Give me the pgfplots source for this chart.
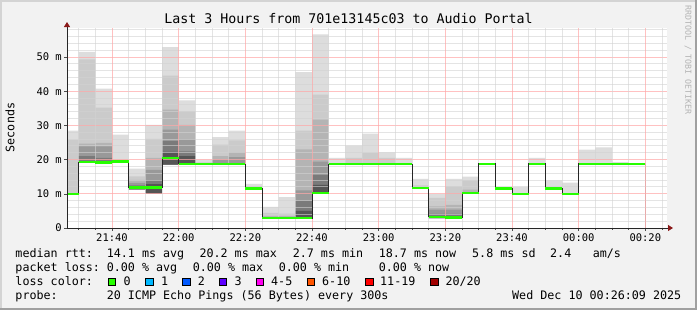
\documentclass[border=0pt]{standalone}
\usepackage{fontspec}
\setmainfont{DejaVu Sans Mono}
\usepackage{pgfplots}
\pgfplotsset{compat=1.18}
\usepackage{pgfplotstable}
\usetikzlibrary{arrows.meta}

\definecolor{bgc}{HTML}{F2F2F2}
\definecolor{frameL}{HTML}{D4D4D4}
\definecolor{frameD}{HTML}{A0A0A0}
\definecolor{gridred}{HTML}{FFA8A8}
\definecolor{gridgray}{HTML}{D2D2D2}
\definecolor{arrowred}{HTML}{8B1A1A}
\definecolor{s1}{HTML}{DDDDDD}
\definecolor{s2}{HTML}{CBCBCB}
\definecolor{s3}{HTML}{B4B4B4}
\definecolor{s4}{HTML}{999999}
\definecolor{s5}{HTML}{7A7A7A}
\definecolor{s6}{HTML}{555555}
\definecolor{lc0}{HTML}{26FF00}
\definecolor{lc1}{HTML}{00B8FF}
\definecolor{lc2}{HTML}{0059FF}
\definecolor{lc3}{HTML}{5E00FF}
\definecolor{lc4}{HTML}{FF00F0}
\definecolor{lc6}{HTML}{FF5500}
\definecolor{lc11}{HTML}{FF0000}
\definecolor{lc20}{HTML}{A10000}
\definecolor{wm}{HTML}{B4B4B4}

% t = minutes after 21:40, step start; m = median rtt (ms); lo = smallest rtt; h1..h6 = tops of the smoke layers (light to dark)
\pgfplotstableread{
t    m    lo   h1   h2   h3   h4   h5   h6
-15  10.0 10.0 28.5 25.8 10.0 10.0 10.0 10.0
-10  19.3 19.0 51.5 49.3 24.7 23.9 21.0 19.3
-5   19.2 19.0 40.8 35.2 24.9 23.9 20.5 19.2
0    19.5 19.3 27.3 20.0 19.5 19.5 19.5 19.5
5    11.9 11.2 17.4 15.1 14.1 13.2 12.5 11.9
10   11.9 10.0 30.2 26.1 20.5 17.0 14.0 12.8
15   20.5 18.5 52.9 44.6 34.6 28.8 25.4 22.3
20   18.8 18.5 37.3 34.1 30.2 25.9 22.4 21.0
25   18.7 18.6 20.0 19.2 18.7 18.7 18.7 18.7
30   18.7 18.6 26.6 24.4 21.0 20.0 18.7 18.7
35   18.7 18.6 28.5 25.6 22.1 20.7 18.7 18.7
40   11.5 11.3 12.9 12.2 11.5 11.5 11.5 11.5
45   2.9  2.7  6.2  4.4  3.5  2.9  2.9  2.9
50   2.9  2.7  9.0  4.2  3.5  2.9  2.9  2.9
55   2.9  2.7  45.6 28.5 23.0 11.0 8.0  5.0
60   10.2 10.0 56.6 39.0 31.7 19.4 15.5 12.6
65   18.7 18.6 20.5 18.7 18.7 18.7 18.7 18.7
70   18.7 18.6 24.1 20.5 18.7 18.7 18.7 18.7
75   18.7 18.6 27.6 22.0 18.7 18.7 18.7 18.7
80   18.7 18.6 22.1 20.5 18.7 18.7 18.7 18.7
85   18.7 18.6 20.5 18.7 18.7 18.7 18.7 18.7
90   11.7 11.5 14.4 12.5 11.7 11.7 11.7 11.7
95   3.3  2.8  10.0 8.8  6.3  5.4  4.1  3.3
100  3.1  2.8  14.4 12.2 6.8  5.4  4.1  3.1
105  10.2 10.0 15.0 13.9 11.2 10.2 10.2 10.2
110  18.8 18.8 18.8 18.8 18.8 18.8 18.8 18.8
115  11.5 11.5 11.5 11.5 11.5 11.5 11.5 11.5
120  10.0 9.8  12.0 10.0 10.0 10.0 10.0 10.0
125  18.8 18.6 20.5 18.8 18.8 18.8 18.8 18.8
130  11.5 11.3 13.9 11.5 11.5 11.5 11.5 11.5
135  10.0 9.8  13.3 10.0 10.0 10.0 10.0 10.0
140  18.8 18.6 22.9 18.8 18.8 18.8 18.8 18.8
145  18.8 18.6 23.6 18.8 18.8 18.8 18.8 18.8
150  18.7 18.6 19.3 18.7 18.7 18.7 18.7 18.7
155  18.8 18.8 18.8 18.8 18.8 18.8 18.8 18.8
160  18.8 18.8 18.8 18.8 18.8 18.8 18.8 18.8
}\smoke

\newcommand{\lgf}{\fontsize{11.7bp}{14bp}\selectfont}
\newcommand{\ltxt}[3]{\node[anchor=base west, inner sep=0pt, font=\lgf] at (#1bp-0.7bp,310bp-#2bp) {#3};}
\newcommand{\lbox}[3]{\filldraw[fill=#3, draw=black, line width=0.9bp] (#1bp,310bp-#2bp) rectangle ++(7.4bp,7.4bp);}

\begin{document}
\begin{tikzpicture}
\fill[bgc] (0,0) rectangle (697bp,310bp);
\fill[frameL] (0,308bp) rectangle (697bp,310bp);
\fill[frameL] (0,0) rectangle (2bp,310bp);
\fill[frameD] (0,0) rectangle (697bp,2bp);
\fill[frameD] (695bp,0) rectangle (697bp,310bp);

\begin{axis}[
  at={(67bp,82bp)}, anchor=south west,
  scale only axis, width=600bp, height=200bp,
  xmin=-13.5, xmax=166.5, ymin=0, ymax=58.5,
  axis x line*=bottom, axis y line*=left,
  axis background/.style={fill=white},
  axis line style={draw=black!85, line width=0.8bp},
  x axis line style={-{Triangle[length=5bp,width=6bp,color=arrowred]}, shorten >=-6bp},
  y axis line style={-{Triangle[length=5bp,width=6bp,color=arrowred]}, shorten >=-6bp},
  xtick={0,20,...,160},
  xticklabels={21:40,22:00,22:20,22:40,23:00,23:20,23:40,00:00,00:20},
  minor xtick={-10,-5,5,10,15,25,30,35,45,50,55,65,70,75,85,90,95,105,110,115,125,130,135,145,150,155,165},
  ytick={0,10,...,50},
  yticklabels={0\hspace{8.6bp},10 m,20 m,30 m,40 m,50 m},
  tick align=outside, major tick length=3bp, minor tick length=2bp,
  tick style={color=black!70, line width=0.6bp},
  tick label style={font=\fontsize{10.5bp}{12bp}\selectfont},
  xticklabel style={anchor=north, inner sep=0pt, yshift=-3bp},
  yticklabel style={anchor=east, inner sep=0pt, xshift=-2bp},
  axis on top,
  vminorgrid/.style={draw=gridgray, opacity=0.6, line width=1bp, forget plot},
  vmajorgrid/.style={draw=gridred, opacity=0.7, line width=1bp, forget plot},
  hminorgrid/.style={fill=gridgray, draw=none, opacity=0.6, forget plot},
  hmajorgrid/.style={fill=gridred, draw=none, opacity=0.7, forget plot},
]
% smoke (distribution of the 20 pings per 5-minute step)
\addplot[fill=s1, draw=none, const plot] table[x=t,y=h1]{\smoke} \closedcycle;
\addplot[fill=s2, draw=none, const plot] table[x=t,y=h2]{\smoke} \closedcycle;
\addplot[fill=s3, draw=none, const plot] table[x=t,y=h3]{\smoke} \closedcycle;
\addplot[fill=s4, draw=none, const plot] table[x=t,y=h4]{\smoke} \closedcycle;
\addplot[fill=s5, draw=none, const plot] table[x=t,y=h5]{\smoke} \closedcycle;
\addplot[fill=s6, draw=none, const plot] table[x=t,y=h6]{\smoke} \closedcycle;
\addplot[fill=white, draw=none, const plot] table[x=t,y=lo]{\smoke} \closedcycle;
% grid: horizontal lines as thin filled strips (about 1 px tall), vertical as strokes
\pgfplotsinvokeforeach{2,4,6,8,12,14,16,18,22,24,26,28,32,34,36,38,42,44,46,48,52,54,56,58}{
  \addplot[hminorgrid] coordinates {(-13.5,#1-0.15) (166.5,#1-0.15) (166.5,#1+0.15) (-13.5,#1+0.15)};
}
\pgfplotsinvokeforeach{10,20,30,40,50}{
  \addplot[hmajorgrid] coordinates {(-13.5,#1-0.15) (166.5,#1-0.15) (166.5,#1+0.15) (-13.5,#1+0.15)};
}
\pgfplotsinvokeforeach{-10,-5,5,10,15,25,30,35,45,50,55,65,70,75,85,90,95,105,110,115,125,130,135,145,150,155,165}{
  \addplot[vminorgrid] coordinates {(#1,0) (#1,58.5)};
}
\pgfplotsinvokeforeach{0,20,40,60,80,100,120,140,160}{
  \addplot[vmajorgrid] coordinates {(#1,0) (#1,58.5)};
}
% median rtt
\addplot[const plot, draw=black!85, line width=0.8bp] table[x=t,y=m]{\smoke};
\addplot[jump mark left, draw=lc0, line width=2.4bp] table[x=t,y=m]{\smoke};
\end{axis}

% title, y label, watermark
\node[font=\fontsize{13.3bp}{15bp}\selectfont, inner sep=0pt] at (348.5bp,310bp-19bp) {Last 3 Hours from 701e13145c03 to Audio Portal};
\node[font=\fontsize{11.7bp}{14bp}\selectfont, inner sep=0pt, rotate=90] at (10bp,310bp-127.5bp) {Seconds};
\node[font=\fontsize{8.3bp}{10bp}\selectfont, text=wm, inner sep=0pt, rotate=-90] at (688bp,310bp-60bp) {RRDTOOL / TOBI OETIKER};

% legend
\ltxt{16}{258}{median rtt:}
\ltxt{107.3}{258}{14.1 ms avg}
\ltxt{200}{258}{20.2 ms max}
\ltxt{293.3}{258}{2.7 ms min}
\ltxt{379.3}{258}{18.7 ms now}
\ltxt{472.7}{258}{5.8 ms sd}
\ltxt{550.7}{258}{2.4}
\ltxt{593.3}{258}{am/s}

\ltxt{16}{271.5}{packet loss:}
\ltxt{107.3}{271.5}{0.00 \% avg}
\ltxt{193.3}{271.5}{0.00 \% max}
\ltxt{279.3}{271.5}{0.00 \% min}
\ltxt{379.3}{271.5}{0.00 \% now}

\ltxt{16}{285.5}{loss color:}
\lbox{108.3}{285.7}{lc0}\ltxt{124}{285.5}{0}
\lbox{145.7}{285.7}{lc1}\ltxt{161.7}{285.5}{1}
\lbox{182.7}{285.7}{lc2}\ltxt{198.3}{285.5}{2}
\lbox{219.3}{285.7}{lc3}\ltxt{235}{285.5}{3}
\lbox{256}{285.7}{lc4}\ltxt{271.7}{285.5}{4-5}
\lbox{307.3}{285.7}{lc6}\ltxt{322.7}{285.5}{6-10}
\lbox{365.7}{285.7}{lc11}\ltxt{380.7}{285.5}{11-19}
\lbox{430.7}{285.7}{lc20}\ltxt{446}{285.5}{20/20}

\ltxt{16}{299}{probe:}
\ltxt{107.3}{299}{20 ICMP Echo Pings (56 Bytes) every 300s}
\ltxt{512.7}{299}{Wed Dec 10 00:26:09 2025}

\pgfresetboundingbox
\useasboundingbox (0,0) rectangle (697bp,310bp);
\end{tikzpicture}
\end{document}
